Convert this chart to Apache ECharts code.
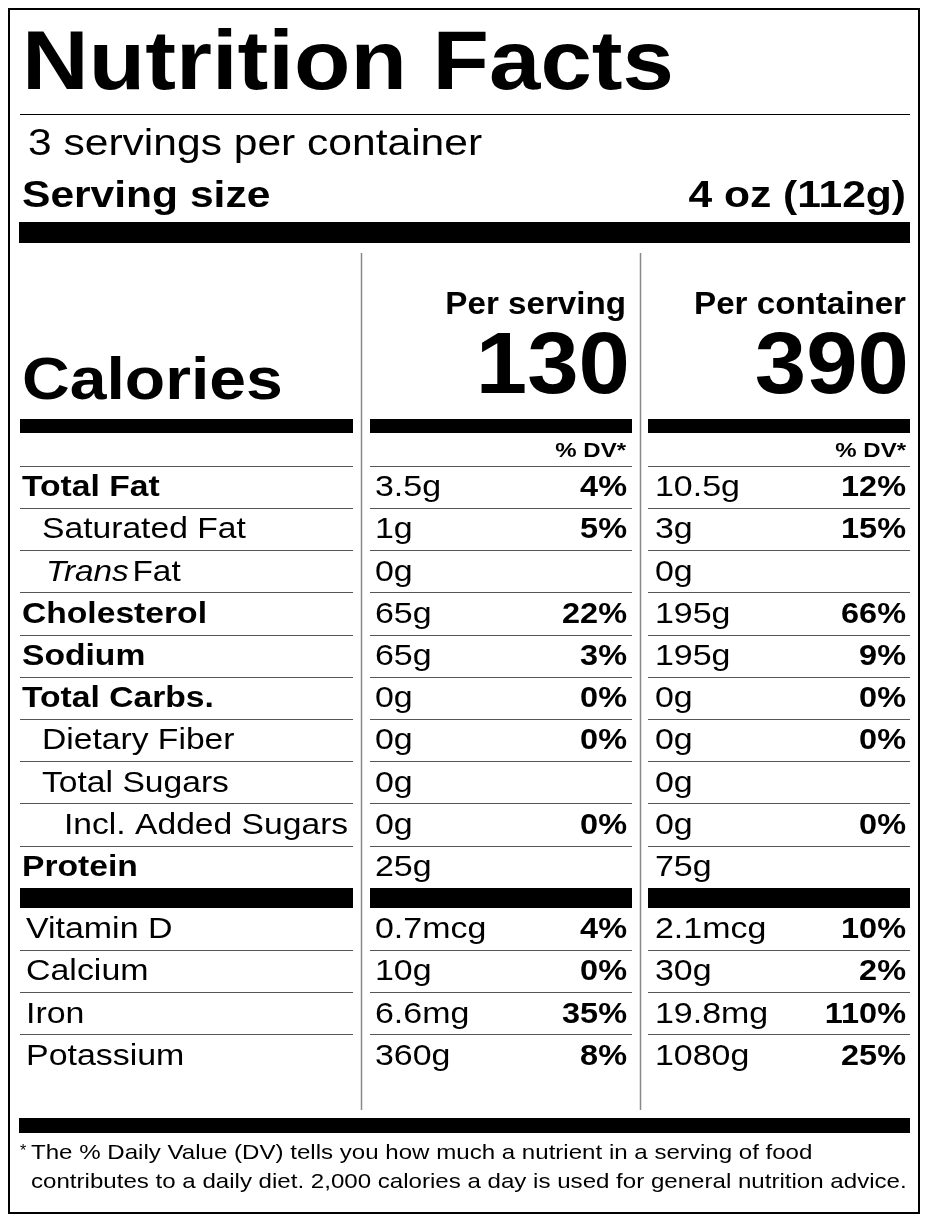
<!DOCTYPE html>
<html><head><meta charset="utf-8">
<script src="https://cdn.jsdelivr.net/npm/echarts@6/dist/echarts.min.js"></script>
<style>html,body{margin:0;padding:0;background:#fff}#c{width:928px;height:1222px}</style>
</head><body><div id="c"></div>
<script>
const title = "Nutrition Facts";
const servingsText = "3 servings per container";
const servingSize = ["Serving size", "4 oz (112g)"];
const calories = {label: "Calories", perServing: "130", perContainer: "390"};
const headers = ["Per serving", "Per container"];
const nutrients = ["Total Fat","Saturated Fat","Trans Fat","Cholesterol","Sodium","Total Carbs.","Dietary Fiber","Total Sugars","Incl. Added Sugars","Protein"];
const nutrientBold = [1,0,0,1,1,1,0,0,0,1];
const nutrientIndent = [0,1,1,0,0,0,1,1,2,0];
const servAmt = ["3.5g","1g","0g","65g","65g","0g","0g","0g","0g","25g"];
const servDV = ["4%","5%","","22%","3%","0%","0%","","0%",""];
const contAmt = ["10.5g","3g","0g","195g","195g","0g","0g","0g","0g","75g"];
const contDV = ["12%","15%","","66%","9%","0%","0%","","0%",""];
const vitamins = ["Vitamin D","Calcium","Iron","Potassium"];
const vitServAmt = ["0.7mcg","10g","6.6mg","360g"];
const vitServDV = ["4%","0%","35%","8%"];
const vitContAmt = ["2.1mcg","30g","19.8mg","1080g"];
const vitContDV = ["10%","2%","110%","25%"];
const footnote = ["The % Daily Value (DV) tells you how much a nutrient in a serving of food","contributes to a daily diet. 2,000 calories a day is used for general nutrition advice."];

const F = "'Liberation Sans', Arial, Helvetica, sans-serif";
const g = [];
function txt(x,y,t,size,bold,align,sx){
  g.push({type:'text',x:x,y:y,scaleX:sx||1.15,style:{text:t,font:(bold?'bold ':'')+size+'px '+F,fill:'#000',textAlign:align||'left',textVerticalAlign:'middle'}});
}
function rect(x,y,w,h,c){g.push({type:'rect',shape:{x:x,y:y,width:w,height:h},style:{fill:c||'#000'}});}
function line(x1,y1,x2,y2,c,w){g.push({type:'line',shape:{x1:x1,y1:y1,x2:x2,y2:y2},style:{stroke:c||'#000',lineWidth:w||1}});}

g.push({type:'rect',shape:{x:9,y:9,width:910,height:1204},style:{fill:'none',stroke:'#000',lineWidth:2}});
txt(22,66,title,84,true,'left',1.1);
line(20,114.5,910,114.5,'#000',1);
txt(28,145,servingsText,37,false,'left',1.15);
txt(22,197,servingSize[0],37,true,'left',1.15);
txt(906,197,servingSize[1],37,true,'right',1.15);
rect(19,222,891,21);
line(361.5,253,361.5,1110,'#888',1.5);
line(640.5,253,640.5,1110,'#888',1.5);
txt(626,305,headers[0],31,true,'right',1.07);
txt(906,305,headers[1],31,true,'right',1.07);
txt(630,369,calories.perServing,88,true,'right',1.05);
txt(909,369,calories.perContainer,88,true,'right',1.05);
txt(22,383,calories.label,59,true,'left',1.12);
const cols=[[20,353],[370,632],[648,910]];
cols.forEach(c=>rect(c[0],419,c[1]-c[0],14));
txt(626,451,"% DV*",20,true,'right',1.2);
txt(906,451,"% DV*",20,true,'right',1.2);
function seps(y){cols.forEach(c=>line(c[0],y,c[1],y,'#555',1));}
seps(466.5);
const rowH=42.2;
const S=29.5;
nutrients.forEach((n,i)=>{
  const y=488+i*rowH;
  const x=nutrientIndent[i]===2?64:(nutrientIndent[i]===1?(n==="Trans Fat"?46:42):22);
  if(n==="Trans Fat"){
    g.push({type:'text',x:x,y:y,scaleX:1.13,style:{text:'{i|Trans} {n|Fat}',textVerticalAlign:'middle',rich:{i:{font:'italic '+S+'px '+F,fill:'#000'},n:{font:S+'px '+F,fill:'#000'}}}});
  } else txt(x,y,n,S,!!nutrientBold[i],'left',1.14);
  txt(375,y,servAmt[i],S,false);
  txt(627,y,servDV[i],S,true,'right',1.1);
  txt(655,y,contAmt[i],S,false);
  txt(906,y,contDV[i],S,true,'right',1.1);
  if(i<nutrients.length-1) seps(Math.round(y+20)+0.5);
});
cols.forEach(c=>rect(c[0],888,c[1]-c[0],20));
vitamins.forEach((n,i)=>{
  const y=930+i*rowH;
  txt(26,y,n,S,false);
  txt(375,y,vitServAmt[i],S,false);
  txt(627,y,vitServDV[i],S,true,'right',1.1);
  txt(655,y,vitContAmt[i],S,false);
  txt(906,y,vitContDV[i],S,true,'right',1.1);
  if(i<vitamins.length-1) seps(Math.round(y+20)+0.5);
});
rect(19,1118,891,15);
txt(20,1152,"*",16,false,'left',1);
txt(31,1153,footnote[0],21,false,'left',1.147);
txt(31,1182,footnote[1],21,false,'left',1.147);

const chart=echarts.init(document.getElementById('c'),null,{renderer:'canvas'});
chart.setOption({animation:false,graphic:{elements:g}});
</script></body></html>
